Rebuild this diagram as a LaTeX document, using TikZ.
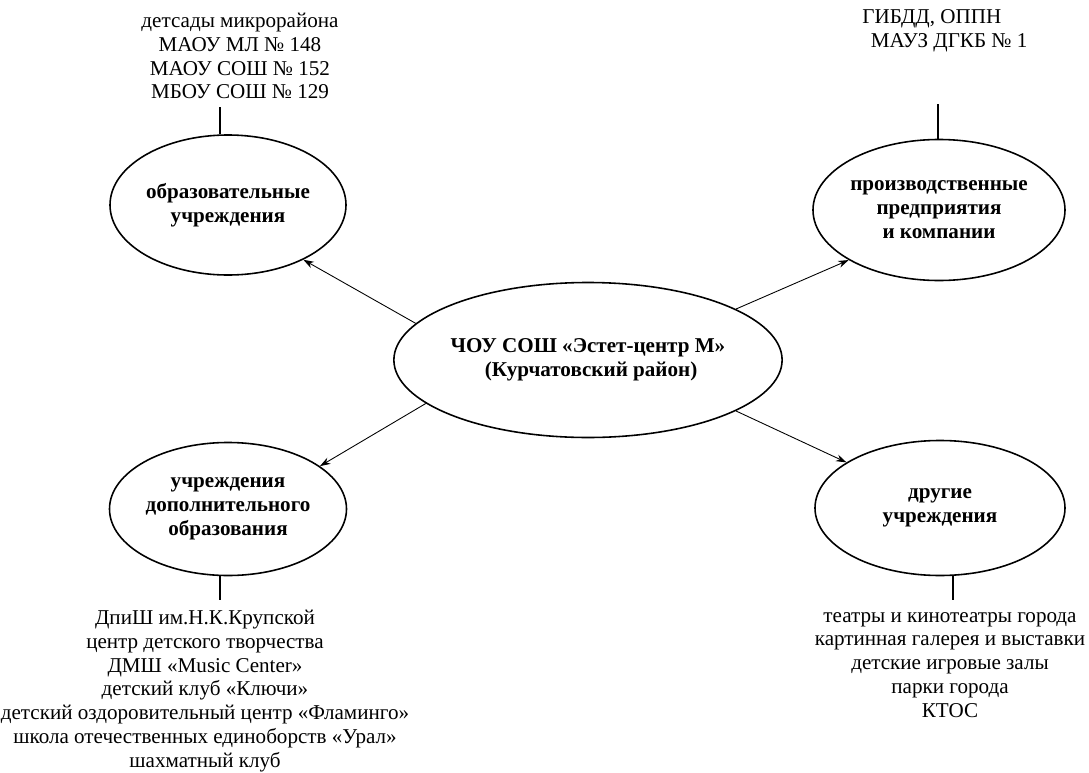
\documentclass[tikz,border=0pt]{standalone}
\usepackage{fontspec}
\setmainfont{Liberation Serif}
\usepackage{tikz}
\usetikzlibrary{shapes.geometric, arrows.meta, positioning, calc}

\begin{document}
\begin{tikzpicture}[
  x=0.2mm, y=-0.2mm,
  oval/.style={ellipse, draw, line width=0.9pt, inner sep=0pt, align=center, font=\fontsize{12}{13.6}\selectfont\bfseries},
  list/.style={align=center, inner sep=0pt, font=\fontsize{12}{13.6}\selectfont},
  arrow/.style={-{Stealth[length=6pt, width=4pt]}, line width=0.5pt},
  stem/.style={line width=0.8pt}
]
  \useasboundingbox (0,0) rectangle (1089,773);

  % ellipses
  \node[oval, minimum width=7.66cm, minimum height=3.1cm] (cen) at (588,360) {ЧОУ СОШ «Эстет-центр М»\\ \hspace*{0.3em}(Курчатовский район)};
  \node[oval, minimum width=4.72cm, minimum height=2.8cm] (edu) at (228,205) {образовательные\\учреждения};
  \node[oval, minimum width=5.04cm, minimum height=2.82cm] (ind) at (939,210) {производственные\\предприятия\\и компании};
  \node[oval, minimum width=4.74cm, minimum height=2.66cm] (add) at (228,509) {учреждения\\дополнительного\\образования};
  \node[oval, minimum width=5.0cm, minimum height=2.7cm] (oth) at (940,508) {другие\\учреждения};

  % lists
  \node[list] (edulist) at (240,56) {детсады микрорайона\\МАОУ МЛ № 148\\МАОУ СОШ № 152\\МБОУ СОШ № 129};
  \node[list, align=left, anchor=west] (indlist) at (862,31) {ГИБДД, ОППН\\\hspace*{0.4em}МАУЗ ДГКБ № 1};
  \node[list] (addlist) at (205,691) {ДпиШ им.Н.К.Крупской\\центр детского творчества\\ДМШ «Music Center»\\детский клуб «Ключи»\\детский оздоровительный центр «Фламинго»\\школа отечественных единоборств «Урал»\\шахматный клуб};
  \node[list] (othlist) at (950,665) {театры и кинотеатры города\\картинная галерея и выставки\\детские игровые залы\\парки города\\КТОС};

  % stems
  \coordinate (edutop) at (220,107);
  \coordinate (indtop) at (938,104);
  \coordinate (addbot) at (220,600);
  \coordinate (othbot) at (953,600);
  \draw[stem] (edu.north -| edutop) -- (edutop);
  \draw[stem] (ind.north -| indtop) -- (indtop);
  \draw[stem] (add.south -| addbot) -- (addbot);
  \draw[stem] (oth.south -| othbot) -- (othbot);

  % arrows
  \draw[arrow] (cen.168) -- (edu.-36);
  \draw[arrow] (cen.19) -- (ind.-151);
  \draw[arrow] (cen.195) -- (add.25);
  \draw[arrow] (cen.-19) -- (oth.154);
\end{tikzpicture}
\end{document}
